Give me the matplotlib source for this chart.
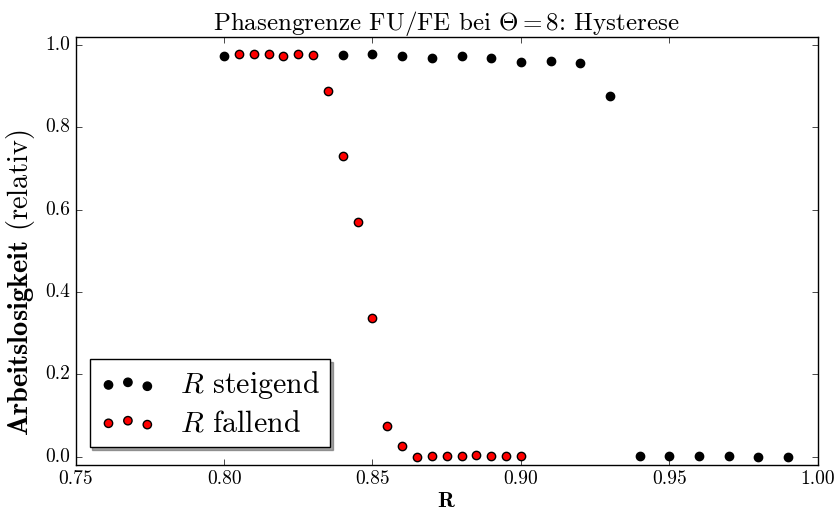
import matplotlib
matplotlib.use("Agg")
import matplotlib.pyplot as plt

# Data
r_up = [0.80, 0.84, 0.85, 0.86, 0.87, 0.88, 0.89, 0.90, 0.91, 0.92, 0.93,
        0.94, 0.95, 0.96, 0.97, 0.98, 0.99]
u_up = [0.974, 0.976, 0.977, 0.972, 0.968, 0.972, 0.968, 0.958, 0.961, 0.957, 0.875,
        0.001, 0.003, 0.001, 0.001, 0.000, 0.000]

r_down = [0.805, 0.81, 0.815, 0.82, 0.825, 0.83, 0.835, 0.84, 0.845, 0.85,
          0.855, 0.86, 0.865, 0.87, 0.875, 0.88, 0.885, 0.89, 0.895, 0.90]
u_down = [0.979, 0.978, 0.978, 0.973, 0.978, 0.975, 0.888, 0.730, 0.571, 0.336,
          0.074, 0.026, 0.000, 0.001, 0.001, 0.001, 0.004, 0.002, 0.001, 0.0025]

xticks = [0.75, 0.80, 0.85, 0.90, 0.95, 1.00]
yticks = [0.0, 0.2, 0.4, 0.6, 0.8, 1.0]

plt.style.use("classic")
plt.rcParams["font.family"] = ["cmr10"]
plt.rcParams["mathtext.fontset"] = "cm"
plt.rcParams["axes.formatter.use_mathtext"] = True
plt.rcParams["axes.unicode_minus"] = False

fig = plt.figure(figsize=(8.37, 5.17), dpi=100)
ax = fig.add_axes([0.0904, 0.1006, 0.8866, 0.8284])

ax.scatter(r_up, u_up, s=36, c="black", edgecolors="black", linewidths=1,
           label=r"$R$ steigend", zorder=3)
ax.scatter(r_down, u_down, s=36, c="red", edgecolors="black", linewidths=1,
           label=r"$R$ fallend", zorder=3)

ax.set_xlim(0.75, 1.00)
ax.set_ylim(-0.02, 1.02)
ax.set_xticks(xticks)
ax.set_yticks(yticks)
ax.set_xticklabels([f"{t:.2f}" for t in xticks])
ax.set_yticklabels([f"{t:.1f}" for t in yticks])
ax.tick_params(labelsize=14)

ax.set_title(r"Phasengrenze FU/FE bei $\Theta = 8$: Hysterese", fontsize=18, pad=5)
ax.set_xlabel(r"$\mathbf{R}$", fontsize=16, labelpad=2)
ax.set_ylabel(r"$\mathbf{Arbeitslosigkeit}$ (relativ)", fontsize=20.5)
ax.yaxis.set_label_coords(-0.052, 0.425)

leg = ax.legend(loc="lower left", bbox_to_anchor=(0.0189, 0.042), borderaxespad=0,
                shadow=True, scatterpoints=3, fontsize=21.5, fancybox=False,
                borderpad=0.33, handlelength=1.9, handletextpad=0.8,
                labelspacing=0.3)

fig.savefig("out.png", dpi=100)
